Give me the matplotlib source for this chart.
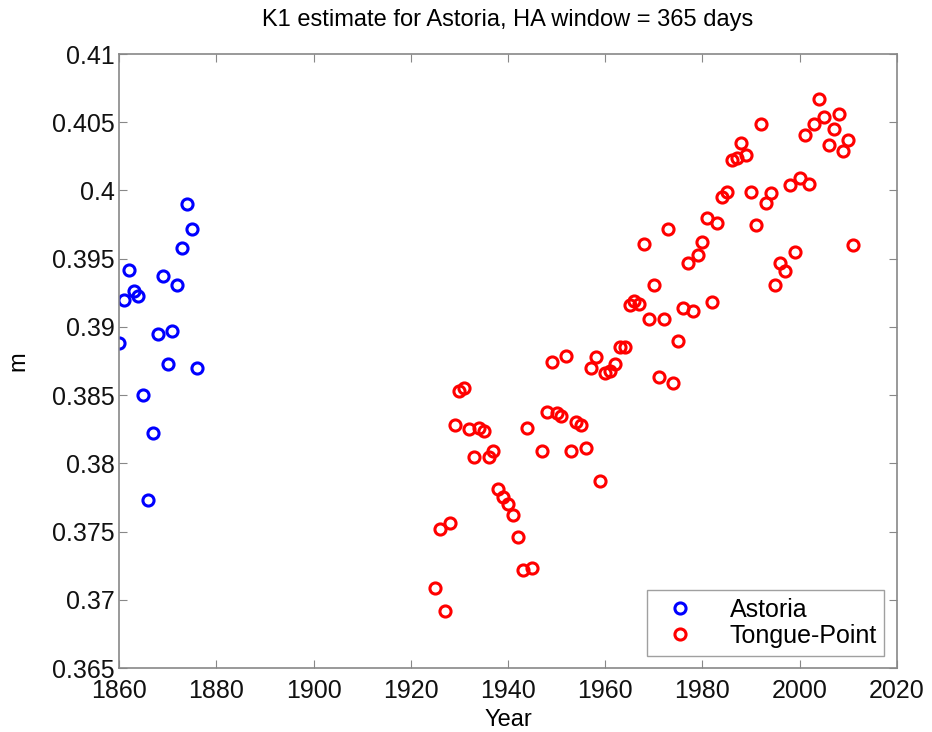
import numpy as np
import matplotlib
matplotlib.use("Agg")
import matplotlib.pyplot as plt
from matplotlib.ticker import FuncFormatter

plt.rcParams['font.family'] = ['Liberation Sans', 'DejaVu Sans']

# K1 amplitude from yearly harmonic analysis
astoria_years = list(range(1860, 1877))
astoria_k1 = [0.3888, 0.3920, 0.3942, 0.3926, 0.3923, 0.3850, 0.3773, 0.3822,
              0.3895, 0.3937, 0.3873, 0.3897, 0.3931, 0.3958, 0.3990, 0.3972,
              0.3870]

tp_years = list(range(1925, 1946)) + list(range(1947, 2012))
tp_k1 = [0.3709, 0.3752, 0.3692, 0.3756, 0.3828, 0.3853, 0.3855, 0.3825,
         0.3805, 0.3826, 0.3824, 0.3805, 0.3809, 0.3781, 0.3775, 0.3770,
         0.3762, 0.3746, 0.3722, 0.3826, 0.3723,
         0.3809, 0.3838, 0.3874, 0.3837, 0.3835, 0.3879, 0.3809, 0.3830,
         0.3828, 0.3811, 0.3870, 0.3878, 0.3787, 0.3866, 0.3868, 0.3873,
         0.3885, 0.3885, 0.3916, 0.3919, 0.3917, 0.3961, 0.3906, 0.3931,
         0.3863, 0.3906, 0.3972, 0.3859, 0.3890, 0.3914, 0.3947, 0.3912,
         0.3953, 0.3962, 0.3980, 0.3918, 0.3976, 0.3995, 0.3999, 0.4022,
         0.4024, 0.4035, 0.4026, 0.3999, 0.3975, 0.4049, 0.3991, 0.3998,
         0.3931, 0.3947, 0.3941, 0.4004, 0.3955, 0.4009, 0.4041, 0.4005,
         0.4049, 0.4067, 0.4054, 0.4033, 0.4045, 0.4056, 0.4029, 0.4037,
         0.3960]

fig = plt.figure(figsize=(9.32, 7.32), dpi=100)
ax = fig.add_axes([0.1277, 0.0874, 0.8347, 0.8388])

ax.plot(astoria_years, astoria_k1, 'o', mfc='none', mec=(0, 0, 1),
        ms=8, mew=2.2, label='Astoria')
ax.plot(tp_years, tp_k1, 'o', mfc='none', mec=(1, 0, 0),
        ms=8, mew=2.2, label='Tongue-Point')

ax.set_xlim(1860, 2020)
ax.set_ylim(0.365, 0.41)
ax.set_xticks(np.arange(1860, 2021, 20))
ax.set_yticks(np.arange(0.365, 0.4101, 0.005))
ax.yaxis.set_major_formatter(FuncFormatter(lambda v, p: '%g' % round(v, 3)))

ax.tick_params(direction='in', top=True, right=True, labelsize=18,
               length=6, width=0.8, color='#888888', labelcolor='#111111')
ax.tick_params(axis='x', pad=8)
ax.tick_params(axis='y', pad=3)
for s in ax.spines.values():
    s.set_color('#888888')
    s.set_linewidth(1.2)

ax.set_xlabel('Year', fontsize=17, labelpad=4)
ax.set_ylabel('m', fontsize=17, labelpad=16)
ax.set_title('K1 estimate for Astoria, HA window = 365 days', fontsize=17, pad=20)

leg = ax.legend(loc='lower right', fontsize=18, handletextpad=1.0,
                borderaxespad=0.5, fancybox=False, edgecolor='#888888',
                handlelength=2.0, borderpad=0.3, labelspacing=0.1)
leg.get_frame().set_linewidth(1.0)

fig.savefig('out.png', dpi=100)
